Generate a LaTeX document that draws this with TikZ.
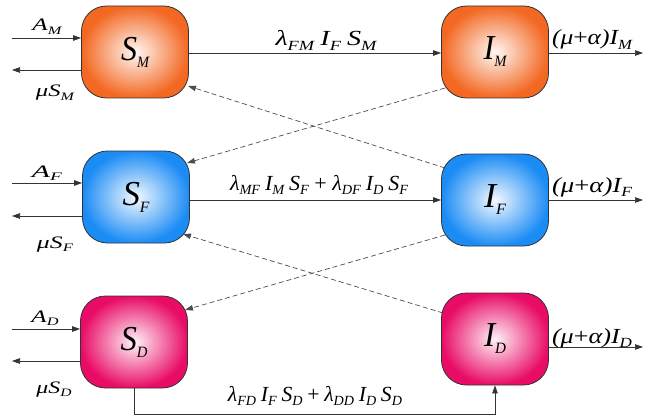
\documentclass[tikz,border=0pt]{standalone}
\usepackage{fontspec}
\setmainfont{Liberation Serif}
\usetikzlibrary{arrows.meta}
\definecolor{cM}{RGB}{243,104,34}
\definecolor{cF}{RGB}{28,140,245}
\definecolor{cD}{RGB}{233,12,102}
\newcommand\fitw[2]{\resizebox{#1}{\height}{#2}}
\newcommand\sbx[2][0.65]{\raisebox{-0.2em}{\scalebox{#1}{#2}}}
\newcommand\gp{\hspace{0.22em}}
\begin{document}
\begin{tikzpicture}[x=1pt,y=-1pt,
  comp/.style={draw=black!80, line width=0.8pt, rounded corners=25pt,
    minimum width=107pt, minimum height=92pt, inner sep=0pt,
    font=\fontsize{35}{40}\selectfont\itshape},
  compM/.style={comp, inner color=cM!5!white, outer color=cM},
  compF/.style={comp, inner color=cF!5!white, outer color=cF},
  compD/.style={comp, inner color=cD!5!white, outer color=cD},
  arr/.style={draw=black!80, line width=0.7pt, -{Triangle[length=8pt,width=5.5pt]}},
  darr/.style={arr, draw=black!70, dash pattern=on 5pt off 3pt},
  lbl/.style={font=\fontsize{21.5}{24}\selectfont\itshape, inner sep=0pt, anchor=base},
  slbl/.style={font=\fontsize{17.5}{21}\selectfont\itshape, inner sep=0pt, anchor=base}]
\useasboundingbox (0,0) rectangle (645,417);

% compartments
\node[compM] (SM) at (135,52) {\fitw{28pt}{S\sbx[0.45]{M}}};
\node[compM] (IM) at (495,52) {\fitw{23pt}{I\sbx[0.45]{M}}};
\node[compF] (SF) at (136,197) {\fitw{27pt}{S\sbx[0.45]{F}}};
\node[compF] (IF) at (495,200) {\fitw{22pt}{I\sbx[0.45]{F}}};
\node[compD] (SD) at (134,342) {\fitw{27pt}{S\sbx[0.45]{D}}};
\node[compD] (ID) at (495,339) {\fitw{22pt}{I\sbx[0.45]{D}}};

% free ends
\coordinate (aM) at (12,38);  \coordinate (mM) at (12,70);
\coordinate (aF) at (12,183); \coordinate (mF) at (12,216);
\coordinate (aD) at (12,329); \coordinate (mD) at (12,361);
\coordinate (oM) at (643,53); \coordinate (oF) at (643,200); \coordinate (oD) at (643,347);
\coordinate (bot) at (0,414);

% inflows / outflows of S
\draw[arr] (aM) -- (aM -| SM.west);
\draw[arr] (mM -| SM.west) -- (mM);
\draw[arr] (aF) -- (aF -| SF.west);
\draw[arr] (mF -| SF.west) -- (mF);
\draw[arr] (aD) -- (aD -| SD.west);
\draw[arr] (mD -| SD.west) -- (mD);
\node[slbl] (laM) at (47,31) {\fitw{29pt}{A\sbx{M}}};
\node[slbl] (lmM) at (55,97) {\fitw{38pt}{μS\sbx{M}}};
\node[slbl] (laF) at (47,177) {\fitw{30pt}{A\sbx{F}}};
\node[slbl] (lmF) at (55,248) {\fitw{36pt}{μS\sbx{F}}};
\node[slbl] (laD) at (45,322) {\fitw{27pt}{A\sbx{D}}};
\node[slbl] (lmD) at (54,393) {\fitw{35pt}{μS\sbx{D}}};

% infection flows
\draw[arr] (SM.east |- oM) -- (IM.west |- oM);
\draw[arr] (SF.east |- oF) -- (IF.west |- oF);
\draw[arr] (SD.south) -- (SD.south |- bot) -| (ID.south);
\node[lbl] (lM) at (326,46) {\fitw{101pt}{λ\sbx{FM}\gp I\sbx{F}\gp S\sbx{M}}};
\node[lbl] (lF) at (319,190) {\fitw{178pt}{λ\sbx{MF}\gp I\sbx{M}\gp S\sbx{F} {\upshape +} λ\sbx{DF}\gp I\sbx{D}\gp S\sbx{F}}};
\node[lbl] (lD) at (315,401) {\fitw{174pt}{λ\sbx{FD}\gp I\sbx{F}\gp S\sbx{D}\gp{\upshape +}\gp λ\sbx{DD}\gp I\sbx{D}\gp S\sbx{D}}};

% outflows of I
\draw[arr] (IM.east |- oM) -- (oM);
\draw[arr] (IF.east |- oF) -- (oF);
\draw[arr] (ID.east |- oD) -- (oD);
\node[lbl] (loM) at (592,45) {\fitw{80pt}{(μ{\upshape +}α)I\sbx{M}}};
\node[lbl] (loF) at (592,192) {\fitw{80pt}{(μ{\upshape +}α)I\sbx{F}}};
\node[lbl] (loD) at (592,343) {\fitw{80pt}{(μ{\upshape +}α)I\sbx{D}}};

% cross infection (dashed)
\draw[darr] ([shift={(-50,36)}]IM.center) -- ([shift={(51,-34)}]SF.center);
\draw[darr] ([shift={(-50,-32)}]IF.center) -- ([shift={(53,34)}]SM.center);
\draw[darr] ([shift={(-50,35)}]IF.center) -- ([shift={(51,-32)}]SD.center);
\draw[darr] ([shift={(-52,-26)}]ID.center) -- ([shift={(47,37)}]SF.center);
\end{tikzpicture}
\end{document}
